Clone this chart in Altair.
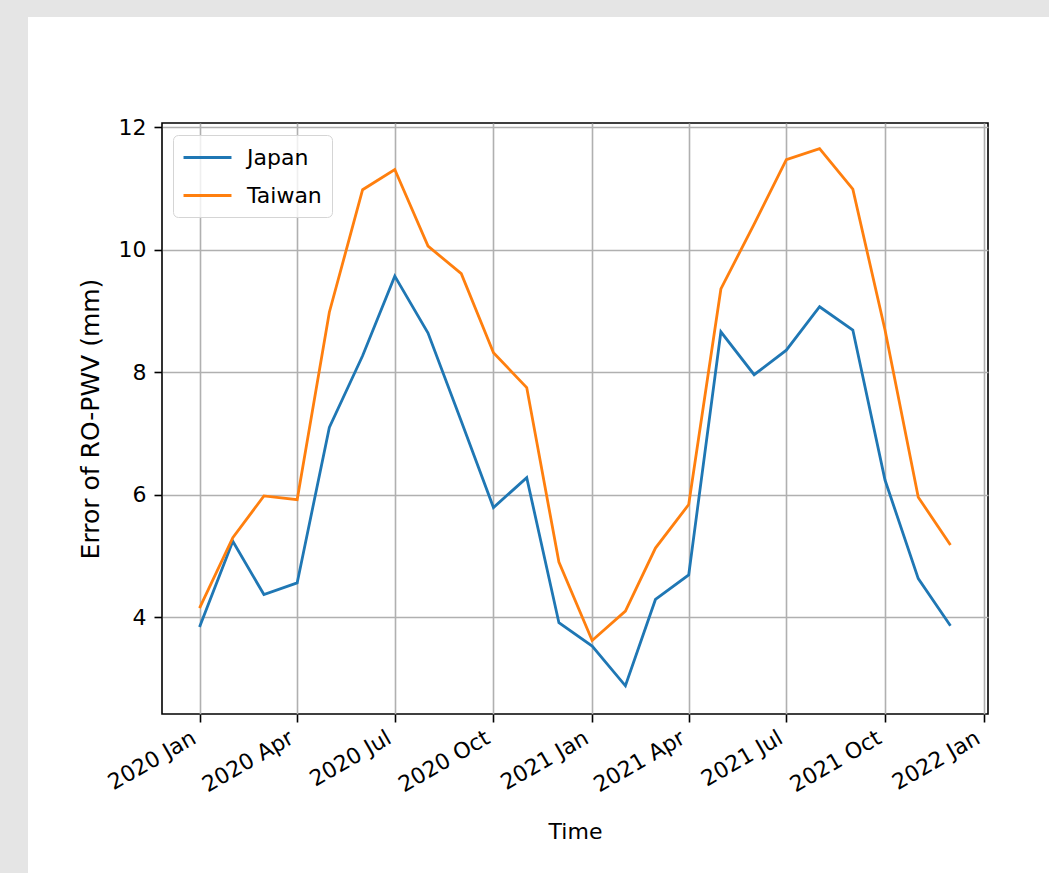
import altair as alt
import pandas as pd

# Monthly RO-PWV error (mm), Jan 2020 - Dec 2021
months = pd.date_range("2020-01-01", "2021-12-01", freq="MS").strftime("%Y-%m-%d").tolist()
japan = [3.84, 5.24, 4.37, 4.56, 7.10, 8.27, 9.57, 8.64, 7.20, 5.79, 6.28, 3.91,
         3.53, 2.88, 4.29, 4.69, 8.66, 7.96, 8.36, 9.07, 8.69, 6.24, 4.63, 3.86]
taiwan = [4.15, 5.30, 5.98, 5.92, 8.98, 10.98, 11.31, 10.06, 9.61, 8.32, 7.75, 4.90,
          3.62, 4.10, 5.13, 5.84, 9.36, 10.42, 11.47, 11.65, 10.99, 8.69, 5.96, 5.18]
series = ["Japan", "Taiwan"]
colors = ["#1f77b4", "#ff7f0e"]
tick_months = [(2020, 1), (2020, 4), (2020, 7), (2020, 10), (2021, 1),
               (2021, 4), (2021, 7), (2021, 10), (2022, 1)]
y_ticks = [4, 6, 8, 10, 12]

df = pd.DataFrame({
    "Time": months * 2,
    "value": japan + taiwan,
    "region": ["Japan"] * len(months) + ["Taiwan"] * len(months),
})

FONT = "DejaVu Sans"
FS = 22
W, H = 826, 591          # plot area
PAD_L, PAD_T = 162, 123  # plot area offset inside the 1049x873 canvas

x_axis = alt.Axis(
    values=[alt.DateTime(year=y, month=m, date=1, utc=True) for y, m in tick_months],
    format="%Y %b", labelAngle=330, labelAlign="right", labelBaseline="bottom",
    labelPadding=24, tickSize=8, tickWidth=1.6, tickColor="black", domain=False,
    grid=True, gridColor="#b0b0b0", gridWidth=1.6,
    labelFont=FONT, labelFontSize=FS, labelColor="black",
    title="Time", titleFont=FONT, titleFontSize=FS, titleFontWeight="normal",
    titleColor="black", titlePadding=26, labelOverlap=False, labelFlush=False,
    labelBound=False,
)
y_axis = alt.Axis(
    values=y_ticks, format="d", tickSize=8, tickWidth=1.6, tickColor="black",
    domain=False, grid=True, gridColor="#b0b0b0", gridWidth=1.6,
    labelFont=FONT, labelFontSize=FS, labelColor="black", labelPadding=8,
    title="Error of RO-PWV (mm)", titleFont=FONT, titleFontSize=25,
    titleFontWeight="normal", titleColor="black", titlePadding=15,
)

# gray page margin on the left and top edges of the figure
strips = pd.DataFrame({"a": [0]})
left_strip = alt.Chart(strips).mark_rect(fill="#e5e5e5", clip=False).encode(
    x=alt.value(-PAD_L), x2=alt.value(28 - PAD_L),
    y=alt.value(-PAD_T), y2=alt.value(873 - PAD_T),
)
top_strip = alt.Chart(strips).mark_rect(fill="#e5e5e5", clip=False).encode(
    x=alt.value(-PAD_L), x2=alt.value(1049 - PAD_L),
    y=alt.value(-PAD_T), y2=alt.value(17 - PAD_T),
)

lines = alt.Chart(df).mark_line(strokeWidth=2.8).encode(
    x=alt.X("Time:T", axis=x_axis, scale=alt.Scale(
        type="utc",
        domain=[alt.DateTime(year=2019, month=11, date=27, utc=True),
                alt.DateTime(year=2022, month=1, date=5, utc=True)])),
    y=alt.Y("value:Q", axis=y_axis,
            scale=alt.Scale(domain=[2.42, 12.07], nice=False, zero=False)),
    color=alt.Color("region:N", scale=alt.Scale(domain=series, range=colors),
                    legend=alt.Legend(
                        title=None, orient="none", legendX=11, legendY=12,
                        symbolType="M-2.18,0H2.18", symbolSize=484,
                        symbolStrokeWidth=2.8, symbolOffset=12,
                        labelFont=FONT, labelFontSize=FS, labelColor="black",
                        labelOffset=27, rowPadding=14, padding=10,
                        fillColor="rgba(255,255,255,0.8)", strokeColor="#d5d5d5",
                        cornerRadius=5)),
)

chart = alt.layer(left_strip, top_strip, lines).properties(
    width=W, height=H,
    background="white",
    padding={"left": PAD_L, "top": PAD_T, "right": 1049 - PAD_L - W,
             "bottom": 873 - PAD_T - H},
    autosize=alt.AutoSizeParams(type="none"),
).configure_view(stroke="black", strokeWidth=1.6)

chart.save("out.html", embed_options={"renderer": "svg", "actions": False})
